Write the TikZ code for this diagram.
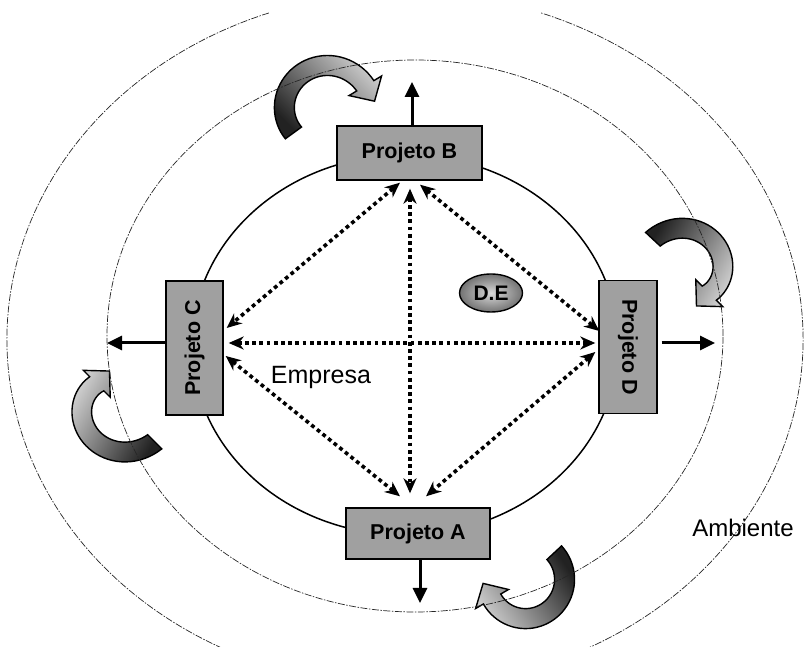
\documentclass[tikz,border=0pt]{standalone}
\usepackage{fontspec}
\setmainfont{Liberation Sans}
\usetikzlibrary{arrows.meta,calc,shapes.geometric}
\definecolor{pgray}{HTML}{A0A0A0}
\definecolor{pdark}{HTML}{222222}
\definecolor{plight}{HTML}{CACACA}

% fat curved arrow: cx, cy, start angle, end angle, start radius, end radius, shading angle
\newcommand{\bentarrow}[7]{%
\shadedraw[bent,shading angle=#7]
 plot[domain=#3:#4,samples=40] ({#1+(#5+(#6-(#5))*(\x-(#3))/((#4)-(#3))+10)*cos(\x)},{#2+(#5+(#6-(#5))*(\x-(#3))/((#4)-(#3))+10)*sin(\x)})
 -- ($(#1,#2)+(#4:#6+19)$) -- ($(#1,#2)+(#4:#6)+(#4-90:18)$) -- ($(#1,#2)+(#4:#6-19)$)
 -- plot[domain=#4:#3,samples=40] ({#1+(#5+(#6-(#5))*(\x-(#3))/((#4)-(#3))-10)*cos(\x)},{#2+(#5+(#6-(#5))*(\x-(#3))/((#4)-(#3))-10)*sin(\x)})
 -- cycle;}

\begin{document}
\begin{tikzpicture}[x=1pt,y=1pt, proj/.style={draw,line width=1.4pt,fill=pgray,inner sep=0pt,font=\fontsize{21.5}{24}\selectfont\bfseries}, ring/.style={draw=black!85,line width=0.7pt,dash pattern=on 7pt off 1.5pt on 1.5pt off 1.5pt}, bent/.style={draw=black,line width=1.4pt,top color=pdark,bottom color=plight}, link/.style={{Stealth[length=15pt,width=13pt]}-{Stealth[length=15pt,width=13pt]},line width=3.6pt,dash pattern=on 3.8pt off 3.4pt}, push/.style={-{Triangle[length=15pt,width=14pt]},line width=3pt}, txt/.style={font=\fontsize{25}{28}\selectfont}]
\useasboundingbox (0,0) rectangle (804,647);
\begin{scope}
\clip (0,0) rectangle (804,647);
% arrows round the rings
\bentarrow{325}{537}{216}{31}{39}{47}{135}
\bentarrow{688}{375}{137}{-45}{48}{30}{60}
\bentarrow{118}{242}{-45}{-225}{52}{30}{-120}
\bentarrow{525}{67}{43}{-150}{40}{38}{-56}
% environment rings
\draw[ring] (405,307.5) ++(110:398 and 347.5) arc[start angle=110,end angle=430,x radius=398,y radius=347.5];
\draw[ring] (415,311) ellipse[x radius=308,y radius=276];
\end{scope}
\draw[line width=1.5pt] (405,302) ellipse[x radius=213,y radius=190];
% projects
\node[proj,minimum width=145pt,minimum height=54pt] (pB) at (409.5,494) {Projeto B};
\node[proj,minimum width=144pt,minimum height=51pt] (pA) at (418,113.5) {Projeto A};
\node[proj,rotate=90,minimum width=134pt,minimum height=57pt] (pC) at (194.5,299) {Projeto C};
\node[proj,rotate=-90,minimum width=133pt,minimum height=58pt] (pD) at (628,300) {Projeto D};
\node[ellipse,draw,line width=1.4pt,inner color=black!15,outer color=black!55,minimum width=63pt,minimum height=38pt,inner sep=0pt,font=\fontsize{21}{23}\selectfont\bfseries] (de) at (491,354) {D.E};
\node[txt] (emp) at (321,269) {Empresa};
\node[txt,font=\fontsize{24}{26}\selectfont] (amb) at (743,119) {Ambiente};
\coordinate (nB) at (412,565);
\coordinate (nA) at (420,44);
\coordinate (nC) at (107,304);
\coordinate (nD) at (715,304);
\draw[push] ([xshift=2.5pt]pB.north) -- (nB);
\draw[push] ([xshift=2pt]pA.south) -- (nA);
\draw[push] ([yshift=5pt]pC.north) -- (nC);
\draw[push] ([xshift=4pt,yshift=4pt]pD.north) -- (nD);
% links between projects
\draw[link] ([xshift=0.5pt,yshift=-8pt]pB.south) -- ([xshift=-8pt,yshift=14pt]pA.north);
\draw[link] ([xshift=5pt,yshift=5pt]pC.south) -- ([xshift=-3pt,yshift=4pt]pD.south);
\draw[link] ([xshift=-9.5pt,yshift=-2pt]pB.south) -- ([xshift=3pt,yshift=20pt]pC.south);
\draw[link] ([xshift=10.5pt,yshift=-4pt]pB.south) -- ([xshift=1pt,yshift=16pt]pD.south);
\draw[link] ([xshift=2pt,yshift=-8pt]pC.south) -- ([xshift=-18pt,yshift=11pt]pA.north);
\draw[link] ([xshift=-3pt,yshift=-5pt]pD.south) -- ([xshift=8pt,yshift=11pt]pA.north);
\end{tikzpicture}
\end{document}
